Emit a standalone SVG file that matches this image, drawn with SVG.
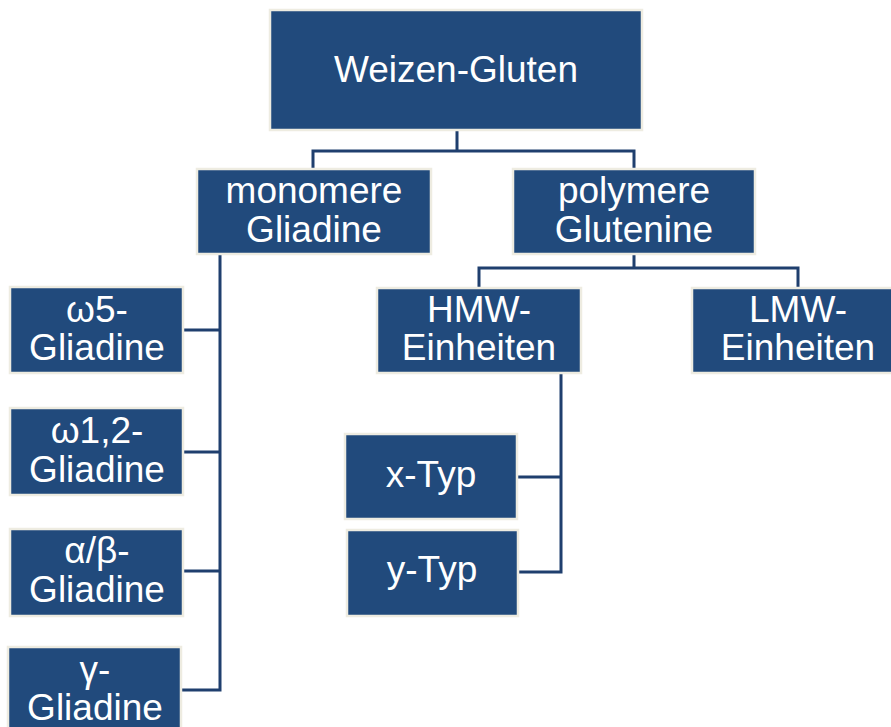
<svg xmlns="http://www.w3.org/2000/svg" width="891" height="727" viewBox="0 0 891 727">
<style>
.box{fill:#214A7C;stroke:#EEECE1;stroke-width:2.5}
.t{font-family:"Liberation Sans",Arial,sans-serif;font-size:37px;fill:#FFFFFF;text-anchor:middle}
.c{fill:none;stroke:#1F3F6E;stroke-width:3}
</style>
<rect width="891" height="727" fill="#FFFFFF"/>
<g id="connectors">
<path class="c" d="M457,131 V151 M313,168 V151 H634 V168"/>
<path class="c" d="M634,255 V268 M479,287 V268 H798 V287"/>
<path class="c" d="M220,255 V690 H182 M184,330 H220 M184,452 H220 M184,571 H220"/>
<path class="c" d="M561,374 V572 H518 M517,477 H561"/>
</g>
<g id="n-weizen"><rect class="box" x="270" y="10" width="372" height="120"/><text class="t" x="456" y="82">Weizen-Gluten</text></g>
<g id="n-monomere"><rect class="box" x="197" y="169" width="234" height="85"/><text class="t" x="314" y="203">monomere</text><text class="t" x="314" y="242">Gliadine</text></g>
<g id="n-polymere"><rect class="box" x="513" y="169" width="242" height="85"/><text class="t" x="634" y="203">polymere</text><text class="t" x="634" y="242">Glutenine</text></g>
<g id="n-hmw"><rect class="box" x="377" y="288" width="204" height="85"/><text class="t" x="479" y="322">HMW-</text><text class="t" x="479" y="360">Einheiten</text></g>
<g id="n-lmw"><rect class="box" x="692" y="288" width="212" height="85"/><text class="t" x="798" y="322">LMW-</text><text class="t" x="798" y="360">Einheiten</text></g>
<g id="n-w5"><rect class="box" x="10" y="287" width="173" height="86"/><text class="t" x="97" y="322">ω5-</text><text class="t" x="97" y="360">Gliadine</text></g>
<g id="n-w12"><rect class="box" x="10" y="408" width="173" height="87"/><text class="t" x="97" y="443">ω1,2-</text><text class="t" x="97" y="482">Gliadine</text></g>
<g id="n-ab"><rect class="box" x="10" y="529" width="173" height="87"/><text class="t" x="97" y="563">α/β-</text><text class="t" x="97" y="602">Gliadine</text></g>
<g id="n-g"><rect class="box" x="8" y="647" width="173" height="90"/><text class="t" x="95" y="682">γ-</text><text class="t" x="95" y="720">Gliadine</text></g>
<g id="n-x"><rect class="box" x="345" y="434" width="172" height="85"/><text class="t" x="431" y="487">x-Typ</text></g>
<g id="n-y"><rect class="box" x="347" y="530" width="171" height="86"/><text class="t" x="432" y="582">y-Typ</text></g>
</svg>
